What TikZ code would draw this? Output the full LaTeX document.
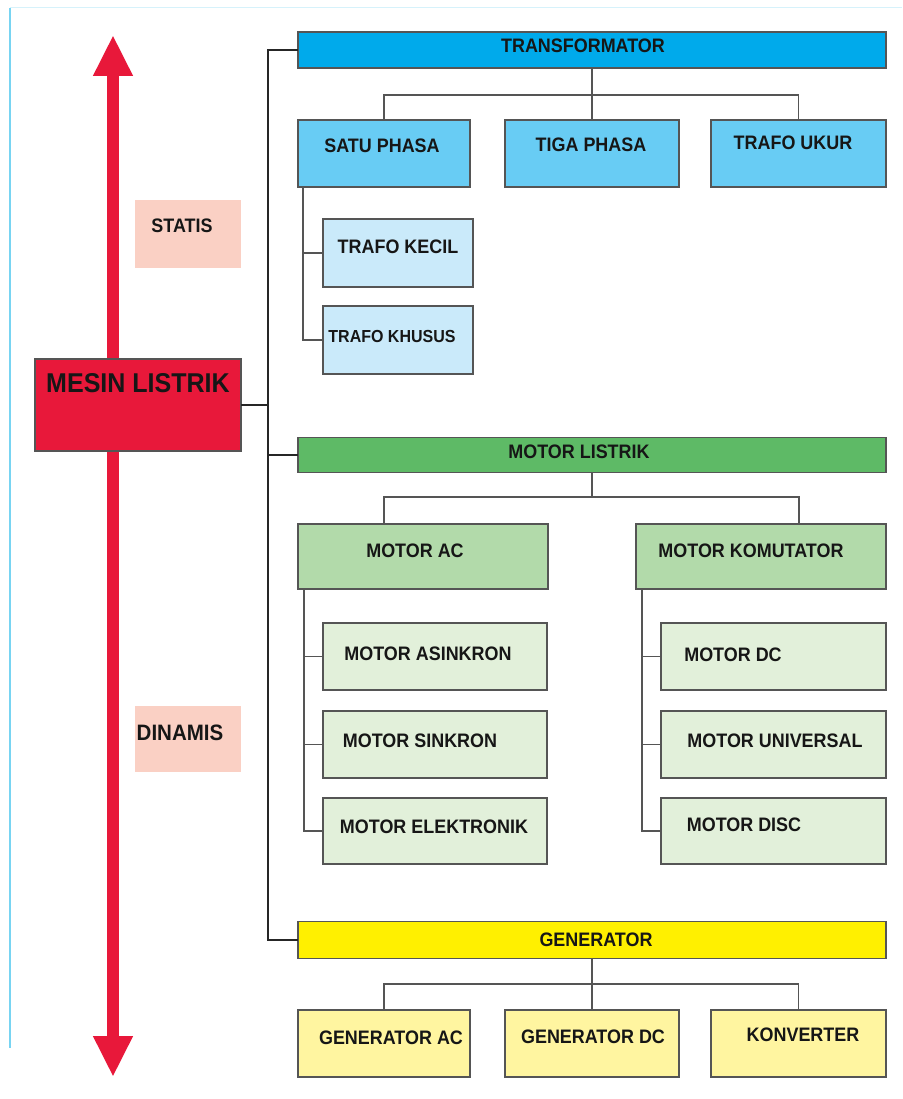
\documentclass[tikz,border=0pt]{standalone}
\usepackage{fontspec}
\setmainfont{Liberation Sans}[FakeStretch=0.92]
\usetikzlibrary{arrows.meta}
\definecolor{redm}{RGB}{232,24,58}
\definecolor{trblue}{RGB}{0,170,235}
\definecolor{subblue}{RGB}{104,204,244}
\definecolor{pblue}{RGB}{202,234,250}
\definecolor{mgreen}{RGB}{94,186,102}
\definecolor{sgreen}{RGB}{178,218,170}
\definecolor{pgreen}{RGB}{226,240,218}
\definecolor{gyellow}{RGB}{255,240,0}
\definecolor{pyellow}{RGB}{255,245,160}
\definecolor{pink}{RGB}{250,208,196}
\definecolor{bord}{RGB}{85,85,85}
\definecolor{frame}{RGB}{120,212,242}
\definecolor{txtc}{RGB}{22,22,22}
\begin{document}
\begin{tikzpicture}[x=1pt,y=-1pt,
  box/.style={draw=bord,line width=1.3pt,inner sep=0pt,outer sep=0pt},
  lbl/.style={inner sep=0pt,text=txtc,font=\fontsize{19.5}{21}\selectfont\bfseries},
  conn/.style={draw=bord,line width=1.3pt},
  trunkline/.style={draw=black!85,line width=1.8pt}]
\useasboundingbox (0,0) rectangle (902,1099);
\fill[white] (0,0) rectangle (902,1099);
% frame lines
\draw[frame,line width=1.5pt] (10,8) -- (10,1048);
\draw[frame!30,line width=1pt] (10,8) -- (902,8);
% red double arrow
\coordinate (atop) at (113,35);
\coordinate (abot) at (113,1077);
\draw[redm,line width=12pt,{Triangle[length=41pt,width=37pt]}-{Triangle[length=41pt,width=37pt]}] (atop) -- (abot);
% static/dynamic labels
\node[fill=pink,minimum width=106pt,minimum height=68pt,inner sep=0pt] (statis) at (188,234) {};
\node[lbl] (statisT) at (182,226) {STATIS};
\node[fill=pink,minimum width=106pt,minimum height=66pt,inner sep=0pt] (dinamis) at (188,739) {};
\node[lbl,font=\fontsize{22.3}{24}\selectfont\bfseries] (dinamisT) at (180,733) {DINAMIS};
% main box
\node[box,fill=redm,minimum width=206pt,minimum height=92pt] (mesin) at (138,405) {};
\node[lbl,font=\fontsize{27.2}{30}\selectfont\bfseries] (mesinT) at (138,383) {MESIN LISTRIK};
% level-1 boxes
\node[box,fill=trblue,minimum width=588pt,minimum height=36pt] (tr) at (592,50) {};
\node[lbl] (trT) at (583,46) {TRANSFORMATOR};
\node[box,fill=mgreen,minimum width=588pt,minimum height=35pt] (ml) at (592,455) {};
\node[lbl] (mlT) at (579,452) {MOTOR LISTRIK};
\node[box,fill=gyellow,minimum width=588pt,minimum height=37pt] (gen) at (592,940) {};
\node[lbl] (genT) at (596,940) {GENERATOR};
% trunk
\coordinate (k1) at (268,50);
\coordinate (k2) at (268,405);
\coordinate (k3) at (268,455);
\coordinate (k4) at (268,940);
\draw[trunkline] (tr.west) -- (k1) -- (k4) -- (gen.west);
\draw[trunkline] (mesin.east) -- (k2);
\draw[trunkline] (k3) -- (ml.west);
% transformator children
\node[box,fill=subblue,minimum width=172pt,minimum height=67pt] (sp) at (384,153.5) {};
\node[lbl] (spT) at (382,146) {SATU PHASA};
\node[box,fill=subblue,minimum width=174pt,minimum height=67pt] (tg) at (592,153.5) {};
\node[lbl] (tgT) at (591,145) {TIGA PHASA};
\node[box,fill=subblue,minimum width=175pt,minimum height=67pt] (tu) at (798.5,153.5) {};
\node[lbl] (tuT) at (793,143) {TRAFO UKUR};
\coordinate (tj) at (592,95);
\draw[conn] (tr.south) -- (tj);
\draw[conn] (sp.north) |- (tj) -| (tu.north);
\draw[conn] (tj) -- (tg.north);
\node[box,fill=pblue,minimum width=150pt,minimum height=68pt] (tk) at (398,253) {};
\node[lbl] (tkT) at (398,247) {TRAFO KECIL};
\node[box,fill=pblue,minimum width=150pt,minimum height=68pt] (th) at (398,340) {};
\node[lbl,font=\fontsize{17.4}{19}\selectfont\bfseries] (thT) at (392,337) {TRAFO KHUSUS};
\coordinate (sp0) at (303,187);
\draw[conn] (sp0) |- (tk.west);
\draw[conn] (sp0) |- (th.west);
% motor children
\node[box,fill=sgreen,minimum width=250pt,minimum height=65pt] (ma) at (423,556.5) {};
\node[lbl] (maT) at (415,551) {MOTOR AC};
\node[box,fill=sgreen,minimum width=250pt,minimum height=65pt] (mk) at (761,556.5) {};
\node[lbl] (mkT) at (751,551) {MOTOR KOMUTATOR};
\coordinate (mj) at (592,497);
\draw[conn] (ml.south) -- (mj);
\draw[conn] ([xshift=-39pt]ma.north) |- (mj) -| ([xshift=38pt]mk.north);
% motor AC sub
\node[box,fill=pgreen,minimum width=224pt,minimum height=67pt] (m1) at (435,656.5) {};
\node[lbl] (m1T) at (428,654) {MOTOR ASINKRON};
\node[box,fill=pgreen,minimum width=224pt,minimum height=67pt] (m2) at (435,744.5) {};
\node[lbl] (m2T) at (420,741) {MOTOR SINKRON};
\node[box,fill=pgreen,minimum width=224pt,minimum height=66pt] (m3) at (435,831) {};
\node[lbl] (m3T) at (434,827) {MOTOR ELEKTRONIK};
\coordinate (ma0) at (304,589);
\draw[conn] (ma0) |- (m1.west);
\draw[conn] (ma0) |- (m2.west);
\draw[conn] (ma0) |- (m3.west);
% motor komutator sub
\node[box,fill=pgreen,minimum width=225pt,minimum height=67pt] (m4) at (773.5,656.5) {};
\node[lbl] (m4T) at (733,655) {MOTOR DC};
\node[box,fill=pgreen,minimum width=225pt,minimum height=67pt] (m5) at (773.5,744.5) {};
\node[lbl] (m5T) at (775,741) {MOTOR UNIVERSAL};
\node[box,fill=pgreen,minimum width=225pt,minimum height=66pt] (m6) at (773.5,831) {};
\node[lbl] (m6T) at (744,825) {MOTOR DISC};
\coordinate (mk0) at (642,589);
\draw[conn] (mk0) |- (m4.west);
\draw[conn] (mk0) |- (m5.west);
\draw[conn] (mk0) |- (m6.west);
% generator children
\node[box,fill=pyellow,minimum width=172pt,minimum height=67pt] (g1) at (384,1043.5) {};
\node[lbl] (g1T) at (391,1038) {GENERATOR AC};
\node[box,fill=pyellow,minimum width=174pt,minimum height=67pt] (g2) at (592,1043.5) {};
\node[lbl] (g2T) at (593,1037) {GENERATOR DC};
\node[box,fill=pyellow,minimum width=175pt,minimum height=67pt] (g3) at (798.5,1043.5) {};
\node[lbl] (g3T) at (803,1035) {KONVERTER};
\coordinate (gj) at (592,984);
\draw[conn] (gen.south) -- (gj);
\draw[conn] (g1.north) |- (gj) -| (g3.north);
\draw[conn] (gj) -- (g2.north);
\end{tikzpicture}
\end{document}
